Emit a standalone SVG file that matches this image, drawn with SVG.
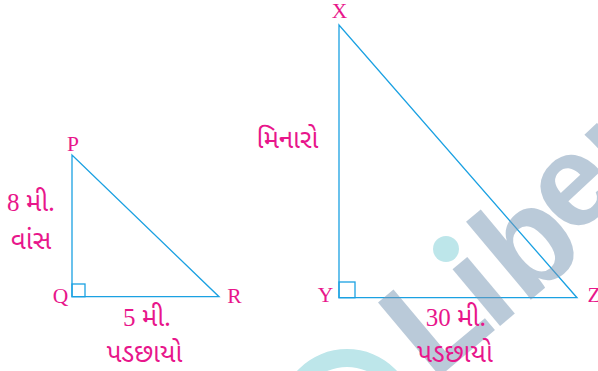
<svg xmlns="http://www.w3.org/2000/svg" width="598" height="371" viewBox="0 0 598 371">
  <style>
    .edge { fill: none; stroke: #1ba1e2; stroke-width: 1.3; stroke-linejoin: miter; }
    .vtx { font-family: "Liberation Serif", serif; font-size: 21.5px; fill: #e8168b; text-anchor: middle; }
    .lbl { font-family: "Liberation Serif", serif; font-size: 25px; fill: #e8168b; text-anchor: middle; }
    .gj { font-family: "Noto Sans Gujarati", "Lohit Gujarati", "Noto Sans", sans-serif; font-size: 26px; }
    .guj { font-family: "Noto Sans Gujarati", "Lohit Gujarati", "Noto Sans", sans-serif; font-size: 26px; fill: #e8168b; text-anchor: middle; }
    .wm { font-family: "Liberation Sans", Arial, sans-serif; font-weight: bold; font-size: 140px; fill: #7896b4; }
  </style>
  <rect width="598" height="371" fill="#ffffff"/>

  <g id="triangle-PQR">
    <path class="edge" d="M72,155 L72,296.7 L219,296.7 Z"/>
    <rect class="edge" x="72" y="284" width="13" height="12.7"/>
  </g>
  <g id="triangle-XYZ">
    <path class="edge" d="M339,25 L339,297.7 L577,297.7 Z"/>
    <rect class="edge" x="339" y="282" width="16" height="15.7"/>
  </g>

  <g id="watermark">
    <path d="M279,417 a68,68 0 1,0 136,0 a68,68 0 1,0 -136,0 Z M297,417 a50,50 0 1,1 100,0 a50,50 0 1,1 -100,0 Z" fill="#bde6ea" fill-rule="evenodd"/>
    <circle cx="446" cy="249" r="13" fill="#bde6ea"/>
    <g opacity="0.5">
      <g transform="translate(507,320) rotate(-40)">
        <text class="wm" x="-97" y="0">L</text>
        <text class="wm" x="-19" y="0">ı</text>
        <text class="wm" x="22" y="0">b</text>
      </g>
      <text class="wm" transform="translate(572,240) rotate(-43)" style="font-size:130px">er</text>
    </g>
  </g>

  <g id="vertex-labels">
    <text class="vtx" x="73" y="151">P</text>
    <text class="vtx" x="60.5" y="303">Q</text>
    <text class="vtx" x="234.5" y="303">R</text>
    <text class="vtx" x="339.5" y="18">X</text>
    <text class="vtx" x="325.5" y="302">Y</text>
    <text class="vtx" x="594" y="302">Z</text>
  </g>

  <g id="side-labels">
    <text class="lbl" x="31" y="211">8 <tspan class="gj">મી.</tspan></text>
    <text class="guj" x="31" y="249">વાંસ</text>
    <text class="lbl" x="147" y="326">5 <tspan class="gj">મી.</tspan></text>
    <text class="guj" x="144.5" y="362">પડછાયો</text>
    <text class="guj" x="287.5" y="148">મિનારો</text>
    <text class="lbl" x="456" y="326">30 <tspan class="gj">મી.</tspan></text>
    <text class="guj" x="455" y="362">પડછાયો</text>
  </g>
</svg>
